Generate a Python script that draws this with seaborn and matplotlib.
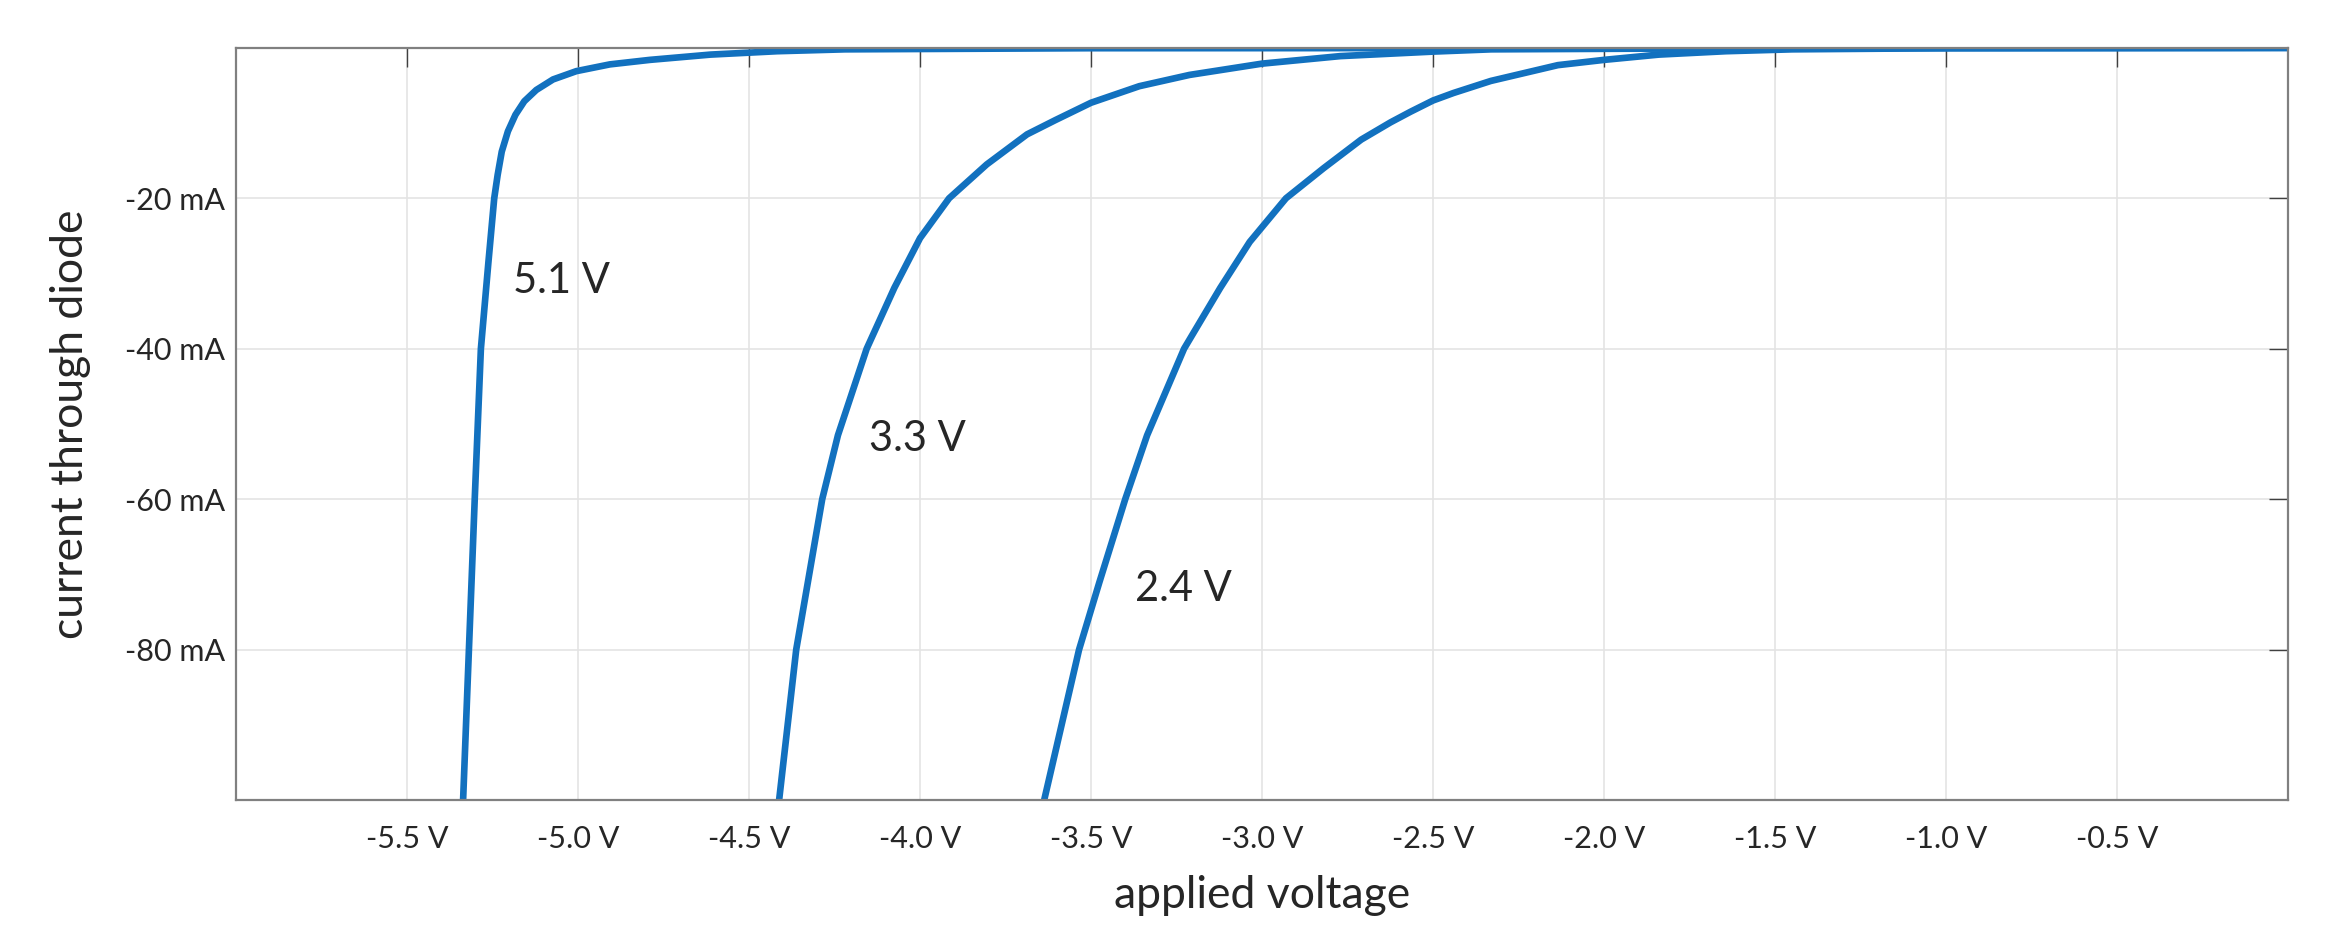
import numpy as np
import pandas as pd
import matplotlib
matplotlib.use("Agg")
import matplotlib.pyplot as plt
import seaborn as sns

# Zener reverse characteristics (V, mA)
zener_labels = ["5.1 V", "3.3 V", "2.4 V"]

v_51 = [-5.336, -5.319, -5.302, -5.284, -5.262, -5.245, -5.235, -5.223, -5.205,
        -5.183, -5.157, -5.122, -5.073, -5.005, -4.907, -4.790, -4.613, -4.418,
        -4.220, -3.500, 0.0]
i_51 = [-100.0, -80.0, -60.0, -40.0, -28.5, -20.0, -16.9, -13.8, -11.1,
        -8.9, -7.1, -5.6, -4.2, -3.1, -2.2, -1.6, -0.9, -0.45,
        -0.2, -0.05, 0.0]

v_33 = [-4.412, -4.362, -4.286, -4.240, -4.156, -4.075, -4.000, -3.915, -3.805,
        -3.687, -3.604, -3.500, -3.359, -3.212, -3.000, -2.771, -2.500, -2.330,
        -1.500, 0.0]
i_33 = [-100.0, -80.0, -60.0, -51.5, -40.0, -31.9, -25.3, -20.0, -15.5,
        -11.5, -9.6, -7.3, -5.1, -3.6, -2.1, -1.1, -0.5, -0.2,
        -0.03, 0.0]

v_24 = [-3.637, -3.535, -3.476, -3.400, -3.336, -3.228, -3.122, -3.036, -2.930,
        -2.820, -2.710, -2.624, -2.566, -2.500, -2.440, -2.331, -2.135, -2.000,
        -1.840, -1.644, -1.450, -1.000, 0.0]
i_24 = [-100.0, -80.0, -71.1, -60.0, -51.5, -40.0, -31.9, -25.8, -20.0,
        -16.0, -12.2, -9.9, -8.5, -7.0, -6.0, -4.4, -2.3, -1.6,
        -0.9, -0.45, -0.2, -0.05, 0.0]

# label anchor points (V, mA)
label_v = [-5.19, -4.15, -3.37]
label_i = [-31.0, -52.0, -72.0]

x_ticks = [-5.5, -5.0, -4.5, -4.0, -3.5, -3.0, -2.5, -2.0, -1.5, -1.0, -0.5]
y_ticks = [-80, -60, -40, -20]

frames = []
for name, v, i in zip(zener_labels, [v_51, v_33, v_24], [i_51, i_33, i_24]):
    frames.append(pd.DataFrame({"voltage": v, "current": i, "zener": name}))
df = pd.concat(frames, ignore_index=True)

sns.set_theme(style="white")
plt.rcParams["font.family"] = ["Lato", "DejaVu Sans"]

line_color = "#1271BF"
text_color = "#262626"

fig = plt.figure(figsize=(11.73, 4.69), dpi=200)
ax = fig.add_axes([0.1006, 0.147, 0.8747, 0.802])

sns.lineplot(data=df, x="voltage", y="current", units="zener", estimator=None,
             color=line_color, linewidth=2.4, sort=False, ax=ax, legend=False)

for name, lv, li in zip(zener_labels, label_v, label_i):
    ax.text(lv, li, name, fontsize=15, color=text_color, ha="left", va="center")

ax.set_xlim(-6, 0)
ax.set_ylim(-100, 0)
ax.set_xticks(x_ticks)
ax.set_xticklabels([f"{t:.1f} V" for t in x_ticks])
ax.set_yticks(y_ticks)
ax.set_yticklabels([f"{t} mA" for t in y_ticks])

ax.grid(True, color="#e4e4e4", linewidth=0.6)
ax.set_axisbelow(True)
for s in ax.spines.values():
    s.set_visible(True)
    s.set_color("#808080")
    s.set_linewidth(0.8)

ax.tick_params(axis="both", direction="in", length=7, width=0.5, color="#404040",
               top=True, right=True, labelsize=11, labelcolor=text_color)
ax.tick_params(axis="x", pad=9)
ax.tick_params(axis="y", pad=4)

ax.set_xlabel("applied voltage", fontsize=16, color=text_color, labelpad=8)
ax.set_ylabel("current through diode", fontsize=16, color=text_color, labelpad=12)

fig.savefig("out.png", dpi=200)
